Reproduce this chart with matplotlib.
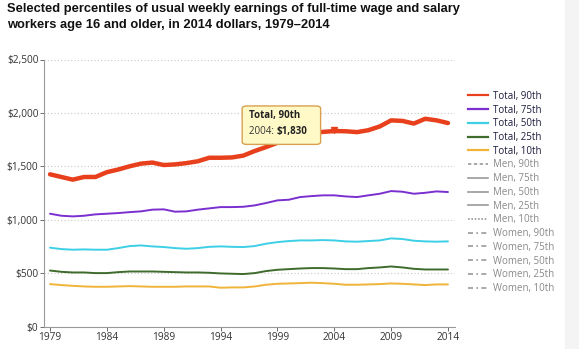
import matplotlib.pyplot as plt
from matplotlib.lines import Line2D
from matplotlib.patches import FancyBboxPatch

years = list(range(1979, 2015))

# weekly earnings, 2014 dollars
p90 = [1425, 1400, 1375, 1400, 1400, 1445, 1470, 1500, 1525, 1535,
       1512, 1518, 1530, 1547, 1580, 1580, 1583, 1600, 1643, 1680,
       1720, 1760, 1790, 1810, 1822, 1830, 1828, 1820, 1838, 1873,
       1930, 1925, 1900, 1945, 1930, 1905]
p75 = [1056, 1037, 1031, 1037, 1050, 1056, 1062, 1071, 1078, 1094,
       1097, 1075, 1078, 1094, 1106, 1118, 1118, 1121, 1134, 1156,
       1181, 1187, 1212, 1221, 1228, 1228, 1218, 1212, 1228, 1243,
       1268, 1262, 1243, 1252, 1265, 1259]
p50 = [738, 725, 719, 722, 719, 719, 734, 753, 759, 750,
       744, 734, 728, 734, 746, 750, 746, 744, 753, 775,
       790, 800, 806, 806, 809, 806, 797, 794, 800, 806,
       825, 819, 803, 797, 794, 797]
p25 = [524, 512, 506, 506, 500, 500, 509, 515, 515, 515,
       512, 509, 506, 506, 503, 497, 494, 491, 500, 519,
       531, 537, 543, 547, 547, 543, 537, 537, 547, 553,
       562, 553, 540, 534, 534, 534]
p10 = [397, 388, 381, 375, 372, 372, 375, 378, 375, 372,
       372, 372, 375, 375, 375, 363, 366, 366, 375, 391,
       400, 403, 406, 410, 406, 400, 391, 391, 394, 397,
       403, 400, 394, 388, 394, 394]

total_labels = ["Total, 90th", "Total, 75th", "Total, 50th", "Total, 25th", "Total, 10th"]
total_colors = ["#e8401c", "#7b2fd0", "#3dcfe6", "#3f6b2c", "#f0b43a"]
hidden_labels = ["Men, 90th", "Men, 75th", "Men, 50th", "Men, 25th", "Men, 10th",
                 "Women, 90th", "Women, 75th", "Women, 50th", "Women, 25th", "Women, 10th"]
hidden_styles = [(0, (2, 1.5)), "-", "-", "-", (0, (1, 1))] + [(0, (3, 2, 1, 2))] * 5

plt.rcParams['font.family'] = ['Open Sans', 'DejaVu Sans']

fig = plt.figure(figsize=(5.79, 3.49), dpi=100)
fig.patches.append(plt.Rectangle((565 / 579, 0), 14 / 579, 1, transform=fig.transFigure,
                                 color="#f4f4f4", zorder=0))
ax = fig.add_axes([44 / 579, 1 - 326.5 / 349, 411 / 579, 267 / 349])

series = [p90, p75, p50, p25, p10]
for vals, col, lab in zip(series, total_colors, total_labels):
    lw = 3.2 if lab == "Total, 90th" else 1.4
    ax.plot(years, vals, color=col, lw=lw, solid_capstyle="round", zorder=3)

ax.set_xlim(1978.47, 2014.62)
ax.set_ylim(0, 2500)
ax.set_xticks(list(range(1979, 2015, 5)))
ax.set_yticks([0, 500, 1000, 1500, 2000, 2500])
ax.set_yticklabels(["$0", "$500", "$1,000", "$1,500", "$2,000", "$2,500"])
ax.tick_params(labelsize=7.3, colors="#555555", length=3, width=0.6, pad=1)
for t in ax.get_xticklabels() + ax.get_yticklabels():
    t.set_color("#333333")
for y in [500, 1000, 1500, 2000, 2500]:
    ax.axhline(y, color="#c8c8c8", lw=0.8, ls=(0, (1, 2)), zorder=1)
for s in ["top", "right"]:
    ax.spines[s].set_visible(False)
ax.spines["left"].set_color("#999999")
ax.spines["bottom"].set_color("#999999")
ax.spines["left"].set_linewidth(0.8)
ax.spines["bottom"].set_linewidth(0.8)

# tooltip on 2004 point
ax.plot([2004], [1830 + 8], marker="v", color="#e8401c", ms=5, zorder=4)
box = FancyBboxPatch((1995.9, 1705), 6.9, 360, boxstyle="round,pad=0,rounding_size=0.4",
                     fc="#fff9c8", ec="#d9a050", lw=1.0, zorder=5,
                     mutation_aspect=60)
ax.add_patch(box)
ax.text(1996.5, 1975, "Total, 90th", fontsize=7, fontweight="bold", color="#222222",
        va="center", zorder=6)
t1 = ax.text(1996.5, 1825, "2004: ", fontsize=7, color="#333333", va="center", zorder=6)
fig.canvas.draw()
ax.annotate("$1,830", xycoords=t1, xy=(1, 0.5), va="center", fontsize=7,
            fontweight="bold", color="#222222", zorder=6)

# legend
handles = [Line2D([], [], color=c, lw=1.6) for c in total_colors]
handles += [Line2D([], [], color="#999999", lw=1.2, ls=s) for s in hidden_styles]
leg = fig.legend(handles, total_labels + hidden_labels, loc="upper left",
                 bbox_to_anchor=(464 / 579, 1 - 87 / 349), frameon=False,
                 fontsize=7, handlelength=2.1, handletextpad=0.5,
                 labelspacing=0.28, borderaxespad=0)
for i, txt in enumerate(leg.get_texts()):
    txt.set_color("#1c1c3c" if i < 5 else "#8a8a8a")

fig.text(7 / 579, 1 - 3 / 349,
         "Selected percentiles of usual weekly earnings of full-time wage and salary\n"
         "workers age 16 and older, in 2014 dollars, 1979\u20132014",
         fontsize=9.3, fontweight="bold", family="Liberation Sans", va="top",
         linespacing=1.4, color="#111111")

fig.savefig("out.png", dpi=100)
